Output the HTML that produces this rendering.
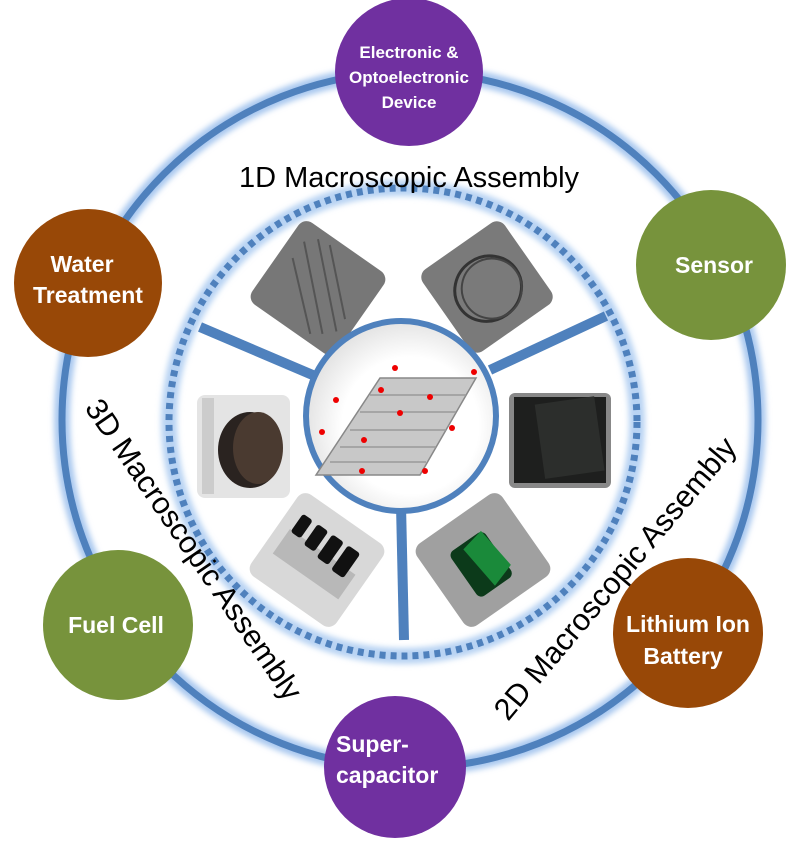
<!DOCTYPE html>
<html><head><meta charset="utf-8"><style>
html,body{margin:0;padding:0;background:#fff;}
svg{display:block;}
text{font-family:"Liberation Sans",Arial,sans-serif;}
.w{fill:#fff;font-weight:bold;}
</style></head><body>
<svg width="804" height="844" viewBox="0 0 804 844" xmlns="http://www.w3.org/2000/svg">
<defs>
<filter id="glow" x="-20%" y="-20%" width="140%" height="140%"><feGaussianBlur stdDeviation="3"/></filter>
<radialGradient id="cg" cx="0.55" cy="0.55" r="0.6"><stop offset="0.6" stop-color="#fff"/><stop offset="1" stop-color="#ddd"/></radialGradient>
</defs>
<circle cx="410" cy="420" r="348" fill="none" stroke="#a9c8ef" stroke-width="16" filter="url(#glow)"/>
<circle cx="410" cy="420" r="348" fill="none" stroke="#4f81bd" stroke-width="7"/>
<circle cx="403" cy="422" r="234" fill="none" stroke="#b8d3f3" stroke-width="16" filter="url(#glow)"/>
<circle cx="403" cy="422" r="234" fill="none" stroke="#4f81bd" stroke-width="7" stroke-dasharray="6 5"/>
<g stroke="#4f81bd" stroke-width="10">
<line x1="200" y1="327" x2="315" y2="376"/>
<line x1="606" y1="316" x2="490" y2="370"/>
<line x1="401" y1="505" x2="404" y2="640"/>
</g>
<g transform="translate(318,288) rotate(35)"><rect x="-52" y="-50" width="104" height="100" rx="10" fill="#777"/>
<path d="M-38 -30 L30 35 M-28 -40 L40 25 M-38 -10 L20 42 M-15 -42 L40 10" stroke="#555" stroke-width="2" fill="none"/></g>
<g transform="translate(487,287) rotate(-35)"><rect x="-50" y="-50" width="100" height="100" rx="10" fill="#7a7a7a"/>
<ellipse cx="0" cy="2" rx="34" ry="32" fill="none" stroke="#333" stroke-width="3"/><ellipse cx="3" cy="4" rx="30" ry="30" fill="none" stroke="#444" stroke-width="2"/></g>
<rect x="197" y="395" width="93" height="103" rx="8" fill="#e4e4e4"/>
<rect x="202" y="398" width="12" height="96" fill="#ccc"/>
<ellipse cx="250" cy="450" rx="32" ry="38" fill="#2a2320"/><ellipse cx="258" cy="448" rx="25" ry="36" fill="#4a3a30"/>
<rect x="509" y="393" width="102" height="95" rx="6" fill="#888"/>
<rect x="514" y="397" width="92" height="86" fill="#1e1f1e"/>
<rect x="540" y="400" width="60" height="75" fill="#2c2e2c" transform="rotate(-8 570 440)"/>
<g transform="translate(317,560) rotate(35)"><rect x="-52" y="-50" width="104" height="100" rx="10" fill="#d8d8d8"/>
<rect x="-40" y="-10" width="80" height="30" fill="#b8b8b8"/>
<g fill="#111"><rect x="-38" y="-30" width="12" height="22" rx="3"/><rect x="-20" y="-30" width="13" height="25" rx="3"/><rect x="-2" y="-30" width="14" height="28" rx="3"/><rect x="17" y="-30" width="15" height="30" rx="3"/></g></g>
<g transform="translate(483,560) rotate(-35)"><rect x="-52" y="-50" width="104" height="100" rx="10" fill="#a0a0a0"/>
<rect x="-25" y="-25" width="42" height="55" rx="6" fill="#0c3a1a"/><path d="M-10 -20 L15 -25 L20 20 L-5 28 Z" fill="#1a8a3a"/></g>
<circle cx="401" cy="416" r="95" fill="url(#cg)" stroke="#4f81bd" stroke-width="6"/>
<g>
<path d="M380 378 L476 378 L420 475 L316 475 Z" fill="#c8c8c8" stroke="#888" stroke-width="1.5"/>
<path d="M370 395 L466 395 M360 412 L456 412 M350 430 L446 430 M340 447 L436 447 M330 462 L426 462" stroke="#999" stroke-width="1.5"/>
<g fill="#e00"><circle cx="395" cy="368" r="3"/><circle cx="474" cy="372" r="3"/><circle cx="381" cy="390" r="3"/><circle cx="430" cy="397" r="3"/><circle cx="400" cy="413" r="3"/><circle cx="336" cy="400" r="3"/><circle cx="322" cy="432" r="3"/><circle cx="364" cy="440" r="3"/><circle cx="452" cy="428" r="3"/><circle cx="362" cy="471" r="3"/><circle cx="425" cy="471" r="3"/></g>
</g>
<text x="409" y="187" font-size="29" text-anchor="middle" fill="#000">1D Macroscopic Assembly</text>
<text transform="translate(84,408) rotate(55.5)" font-size="30.5" fill="#000">3D Macroscopic Assembly</text>
<text transform="translate(508,722) rotate(-50)" font-size="30.5" fill="#000">2D Macroscopic Assembly</text>
<circle cx="409" cy="72" r="74" fill="#7030a0"/>
<text class="w" font-size="17" text-anchor="middle"><tspan x="409" y="58">Electronic &amp;</tspan><tspan x="409" y="83">Optoelectronic</tspan><tspan x="409" y="108">Device</tspan></text>
<circle cx="711" cy="265" r="75" fill="#77933c"/>
<text class="w" x="714" y="273" font-size="23" text-anchor="middle">Sensor</text>
<circle cx="88" cy="283" r="74" fill="#984807"/>
<text class="w" font-size="23" text-anchor="middle"><tspan x="82" y="272">Water</tspan><tspan x="88" y="303">Treatment</tspan></text>
<circle cx="118" cy="625" r="75" fill="#77933c"/>
<text class="w" x="116" y="633" font-size="23" text-anchor="middle">Fuel Cell</text>
<circle cx="688" cy="633" r="75" fill="#984807"/>
<text class="w" font-size="23" text-anchor="middle"><tspan x="688" y="632">Lithium Ion</tspan><tspan x="683" y="664">Battery</tspan></text>
<circle cx="395" cy="767" r="71" fill="#7030a0"/>
<text class="w" font-size="23" text-anchor="start"><tspan x="336" y="752">Super-</tspan><tspan x="336" y="783">capacitor</tspan></text>
</svg>
</body></html>
